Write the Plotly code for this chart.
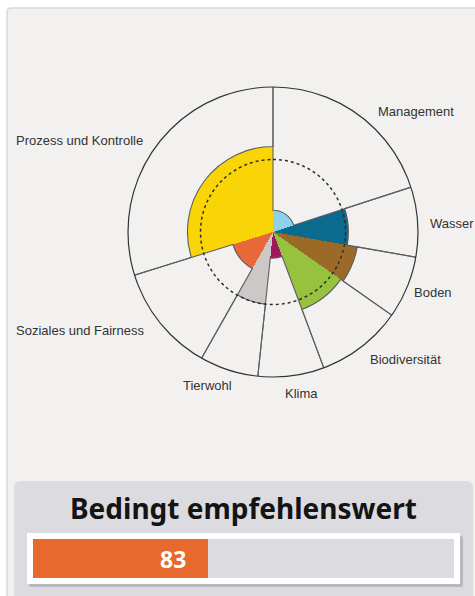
import plotly.graph_objects as go

# ---------------- data ----------------
categories = ["Management", "Wasser", "Boden", "Biodiversität", "Klima",
              "Tierwohl", "Soziales und Fairness", "Prozess und Kontrolle"]
weights_deg = [72, 28, 25, 34.5, 26.5, 23.5, 43.2, 107.3]   # angular width of each sector
scores = [15, 52, 59, 57, 18, 50, 29, 59]                    # filled radius (% of max)
colors = ["#8fd1ec", "#0b6b8e", "#9b6a26", "#96c23e", "#a1185c",
          "#ccc8c7", "#e9683a", "#f9d507"]
threshold = 50
r_max = 100

overall_label = "Bedingt empfehlenswert"
overall_score = 83
overall_max = 200

# ---------------- helpers ----------------
W, H = 475, 596
def fx(px):
    return px / W
def fy(py):
    return 1 - py / H

theta_mid = []
acc = 0
for w in weights_deg:
    theta_mid.append(acc + w / 2)
    acc += w

fig = go.Figure()

fig.add_trace(go.Barpolar(
    r=scores, theta=theta_mid, width=weights_deg,
    marker=dict(color=colors, line=dict(width=0)),
    hoverinfo="skip", showlegend=False,
))
# threshold ring (dotted)
ring_theta = list(range(0, 361, 2))
fig.add_trace(go.Scatterpolar(
    r=[threshold] * len(ring_theta), theta=ring_theta, mode="lines",
    line=dict(color="#2e2e2e", width=1.5, dash="dot"),
    hoverinfo="skip", showlegend=False,
))
fig.add_trace(go.Barpolar(
    r=[r_max] * len(categories), theta=theta_mid, width=weights_deg,
    marker=dict(color="rgba(0,0,0,0)", line=dict(color="#5e5e5e", width=1.1)),
    hoverinfo="skip", showlegend=False,
))

# progress bar
fig.add_trace(go.Bar(
    x=[overall_score], y=[0], orientation="h", width=1,
    marker=dict(color="#e8692d", line=dict(width=0)),
    xaxis="x", yaxis="y", hoverinfo="skip", showlegend=False,
))

shapes = []
def rounded(x0, y0, x1, y1, r, fill, line_color=None, lw=0):
    path = (f"M {fx(x0)} {fy(y0 + r)} Q {fx(x0)} {fy(y0)} {fx(x0 + r)} {fy(y0)} "
            f"L {fx(x1 - r)} {fy(y0)} Q {fx(x1)} {fy(y0)} {fx(x1)} {fy(y0 + r)} "
            f"L {fx(x1)} {fy(y1 - r)} Q {fx(x1)} {fy(y1)} {fx(x1 - r)} {fy(y1)} "
            f"L {fx(x0 + r)} {fy(y1)} Q {fx(x0)} {fy(y1)} {fx(x0)} {fy(y1 - r)} Z")
    return dict(type="path", path=path, xref="paper", yref="paper", layer="below",
                fillcolor=fill,
                line=dict(color=line_color or "rgba(0,0,0,0)", width=lw))

shapes.append(rounded(7, 8, 490, 620, 4, "#f2f1ef", "#dadada", 1.5))
shapes.append(rounded(14, 481, 473, 620, 7, "#dcdbe0"))
shapes.append(rounded(29, 536, 463, 587, 2, "rgba(120,120,130,0.35)"))
shapes.append(rounded(27, 533, 460, 584, 1, "#ffffff"))
shapes.append(dict(type="rect", xref="paper", yref="paper", layer="below",
                   x0=fx(33), x1=fx(454), y0=fy(578), y1=fy(539),
                   fillcolor="#dcdbe0", line=dict(width=0)))

label_pos = [(416, 112, "center"), (452, 223, "center"), (433, 292, "center"),
             (405, 359, "center"), (301, 393, "center"), (207, 385, "center"),
             (14, 331, "left"), (14, 140, "left")]
annotations = []
for name, (px, py, anc) in zip(categories, label_pos):
    annotations.append(dict(text=name, x=fx(px), y=fy(py), xref="paper", yref="paper",
                            xanchor=anc, yanchor="middle", showarrow=False,
                            font=dict(family="Arial, Liberation Sans", size=13, color="#333333")))

annotations.append(dict(text=f"<b>{overall_label}</b>", x=fx(244), y=fy(508),
                        xref="paper", yref="paper", xanchor="center", yanchor="middle",
                        showarrow=False,
                        font=dict(family="Noto Sans", size=28, color="#141414")))
annotations.append(dict(text=f"<b>{overall_score}</b>", x=overall_score, y=0,
                        xref="x", yref="y", xanchor="right", yanchor="middle",
                        xshift=-20, showarrow=False,
                        font=dict(family="Noto Sans", size=23, color="#ffffff")))

fig.update_layout(
    width=W, height=H,
    margin=dict(l=0, r=0, t=0, b=0),
    paper_bgcolor="#ffffff",
    plot_bgcolor="rgba(0,0,0,0)",
    shapes=shapes,
    annotations=annotations,
    bargap=0,
    polar=dict(
        domain=dict(x=[fx(128), fx(418)], y=[fy(377), fy(87)]),
        bgcolor="rgba(0,0,0,0)",
        angularaxis=dict(type="linear", direction="clockwise", rotation=90,
                         showticklabels=False, ticks="", showgrid=False,
                         showline=True, linecolor="#333333", linewidth=1.2),
        radialaxis=dict(range=[0, r_max], visible=False),
    ),
    xaxis=dict(domain=[fx(33), fx(454)], range=[0, overall_max], visible=False,
               fixedrange=True),
    yaxis=dict(domain=[fy(578), fy(539)], range=[-0.5, 0.5], visible=False,
               fixedrange=True),
)

fig.write_html("out.html",
               config={"displayModeBar": False},
               post_script="document.body.style.margin='0';document.body.style.overflow='hidden';")
